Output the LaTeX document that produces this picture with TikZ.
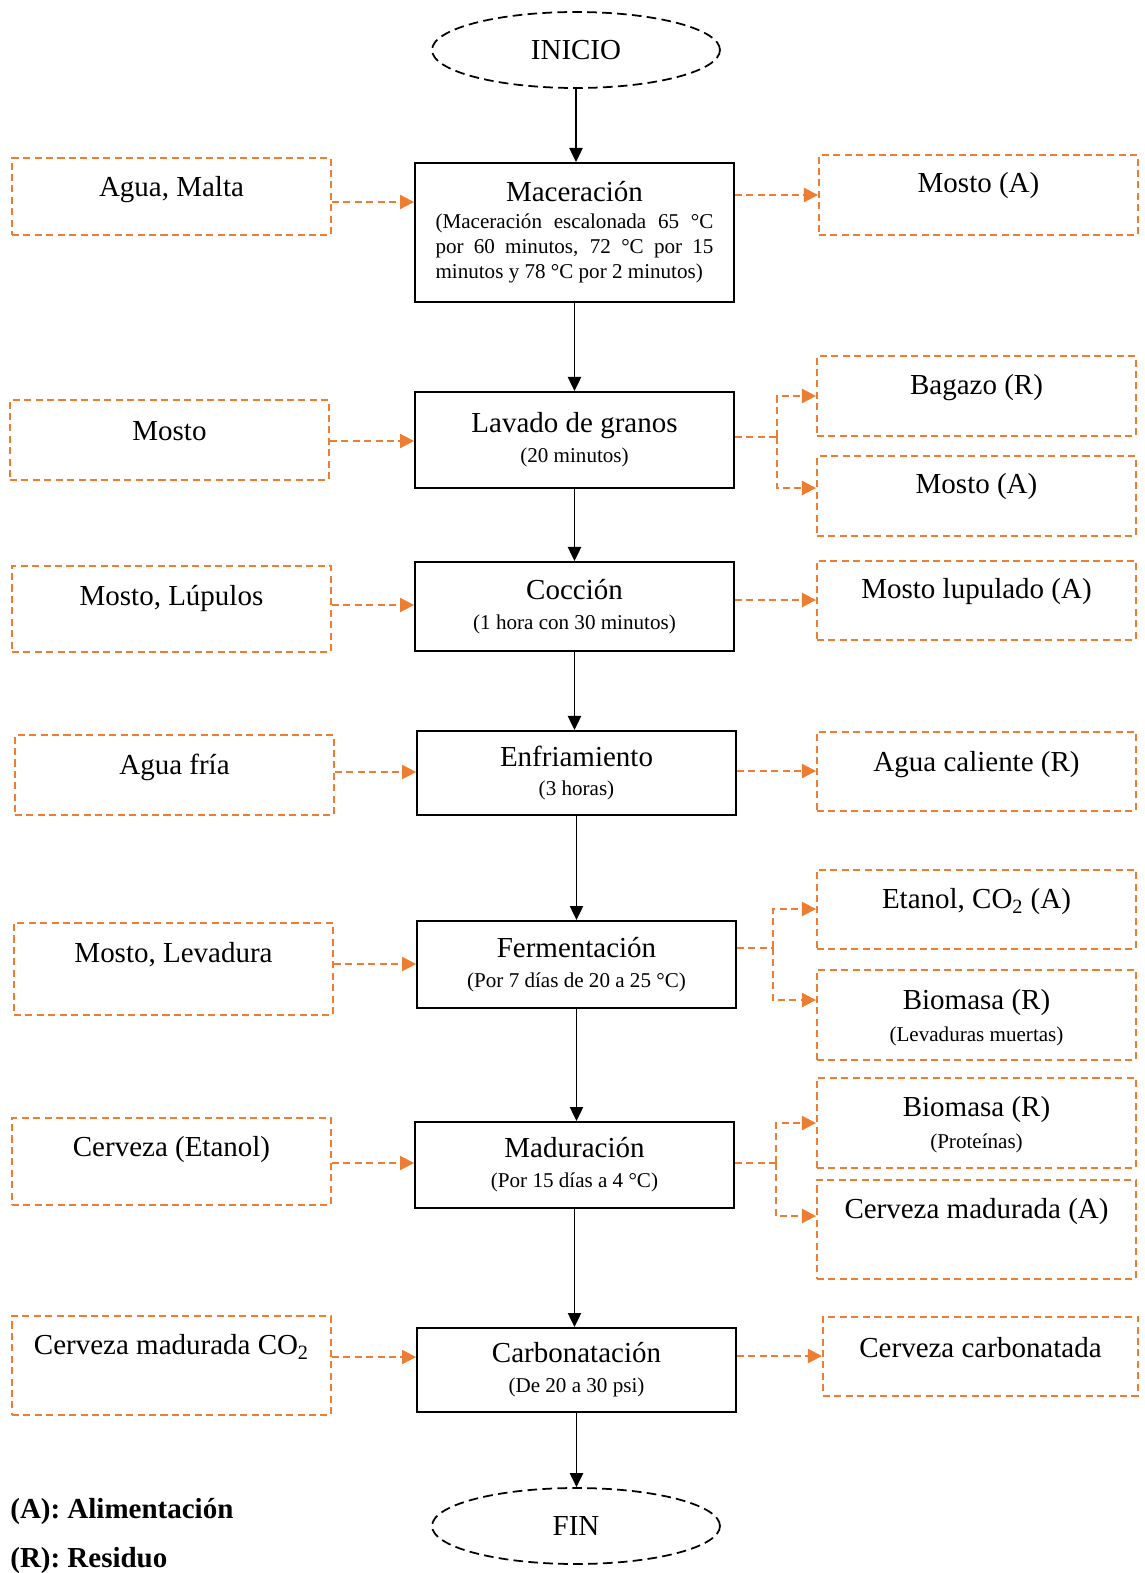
\documentclass[tikz,border=0pt]{standalone}
\usepackage{fontspec}
\setmainfont{Liberation Serif}
\usetikzlibrary{shapes.geometric,arrows.meta,calc}
\definecolor{ora}{HTML}{ED7D31}
\newcommand{\ttl}{\fontsize{16.5}{19.8}\selectfont}
\newcommand{\subt}{\fontsize{12}{14.2}\selectfont}
\begin{document}
\begin{tikzpicture}[x=0.02cm,y=-0.02cm,
  mainbox/.style={draw, line width=1.1pt, minimum width=6.38cm, align=center, inner sep=2pt},
  obox/.style={draw=ora, dash pattern=on 4pt off 2.5pt, line width=0.04cm, minimum width=6.38cm},
  otext/.style={font=\ttl, inner sep=0pt},
  osub/.style={font=\subt, inner sep=0pt},
  oline/.style={draw=ora, dash pattern=on 4pt off 2.5pt, line width=0.04cm},
  oarrow/.style={oline, -{Triangle[length=8pt,width=8pt,fill=ora]}},
  barrow/.style={line width=1pt, -{Triangle[length=8pt,width=7.5pt]}},
  term/.style={ellipse, draw, dash pattern=on 5.5pt off 3pt, line width=1pt,
    minimum width=5.76cm, minimum height=1.52cm, font=\ttl}
]
\useasboundingbox (0,0) rectangle (1145,1573);

% start and end
\node[term] (ini) at (576,50) {INICIO};
\node[term] (fin) at (576,1526) {FIN};

% process steps
\node[mainbox, minimum height=2.78cm] (mac) at (574.5,232.5)
  {{\ttl Maceración}\\[6pt]
   \begin{minipage}{5.56cm}\subt
   \makebox[\linewidth][s]{(Maceración escalonada 65 °C}\\
   \makebox[\linewidth][s]{por 60 minutos, 72 °C por 15}\\
   minutos y 78 °C por 2 minutos)
   \end{minipage}};
\node[mainbox, minimum height=1.92cm] (lav) at (574.5,440)
  {{\ttl Lavado de granos}\\[5pt]{\subt (20 minutos)}};
\node[mainbox, minimum height=1.78cm] (coc) at (574.5,606.5)
  {{\ttl Cocción}\\[5pt]{\subt (1 hora con 30 minutos)}};
\node[mainbox, minimum height=1.68cm] (enf) at (576.5,773)
  {{\ttl Enfriamiento}\\[5pt]{\subt (3 horas)}};
\node[mainbox, minimum height=1.74cm] (fer) at (576.5,964.5)
  {{\ttl Fermentación}\\[5pt]{\subt (Por 7 días de 20 a 25 °C)}};
\node[mainbox, minimum height=1.72cm] (mad) at (574.5,1165)
  {{\ttl Maduración}\\[5pt]{\subt (Por 15 días a 4 °C)}};
\node[mainbox, minimum height=1.68cm] (car) at (576.5,1370)
  {{\ttl Carbonatación}\\[5pt]{\subt (De 20 a 30 psi)}};

% main flow
\draw[barrow] (ini.south) -- (ini.south |- mac.north);
\draw[barrow] (mac.south) -- (mac.south |- lav.north);
\draw[barrow] (lav.south) -- (lav.south |- coc.north);
\draw[barrow] (coc.south) -- (coc.south |- enf.north);
\draw[barrow] (enf.south) -- (enf.south |- fer.north);
\draw[barrow] (fer.south) -- (fer.south |- mad.north);
\draw[barrow] (mad.south) -- (mad.south |- car.north);
\draw[barrow] (car.south) -- (car.south |- fin.north);

% inputs
\node[obox, minimum height=1.54cm] (l1) at (171.5,196.5) {};
\node[obox, minimum height=1.6cm]  (l2) at (169.5,440) {};
\node[obox, minimum height=1.72cm] (l3) at (171.5,609) {};
\node[obox, minimum height=1.6cm]  (l4) at (174.5,775) {};
\node[obox, minimum height=1.84cm] (l5) at (173.5,969) {};
\node[obox, minimum height=1.74cm] (l6) at (171.5,1161.5) {};
\node[obox, minimum height=1.98cm] (l7) at (171.5,1365.5) {};
\node[otext] (tl1) at ($(l1.north)+(0,33)$) {Agua, Malta};
\node[otext] (tl2) at ($(l2.north)+(0,32)$) {Mosto};
\node[otext] (tl3) at ($(l3.north)+(0,33)$) {Mosto, Lúpulos};
\node[otext] (tl4) at ($(l4.north)+(0,33)$) {Agua fría};
\node[otext] (tl5) at ($(l5.north)+(0,33)$) {Mosto, Levadura};
\node[otext] (tl6) at ($(l6.north)+(0,33)$) {Cerveza (Etanol)};
\node[otext] (tl7) at ($(l7.north)+(0,32)$) {Cerveza madurada CO\textsubscript{2}};

\path (l1.east) ++(0,5.5) coordinate (a1);
\path (l2.east) ++(0,1) coordinate (a2);
\path (l3.east) ++(0,-4) coordinate (a3);
\path (l4.east) ++(0,-3) coordinate (a4);
\path (l5.east) ++(0,-5) coordinate (a5);
\path (l6.east) ++(0,1.5) coordinate (a6);
\path (l7.east) ++(0,-8.5) coordinate (a7);
\draw[oarrow] (a1) -- (a1 -| mac.west);
\draw[oarrow] (a2) -- (a2 -| lav.west);
\draw[oarrow] (a3) -- (a3 -| coc.west);
\draw[oarrow] (a4) -- (a4 -| enf.west);
\draw[oarrow] (a5) -- (a5 -| fer.west);
\draw[oarrow] (a6) -- (a6 -| mad.west);
\draw[oarrow] (a7) -- (a7 -| car.west);

% outputs
\node[obox, minimum height=1.6cm]  (r1) at (978.5,195) {};
\node[obox, minimum height=1.6cm]  (r2) at (976.5,396) {};
\node[obox, minimum height=1.6cm]  (r3) at (976.5,496) {};
\node[obox, minimum height=1.58cm] (r4) at (976.5,600) {};
\node[obox, minimum height=1.58cm] (r5) at (976.5,771) {};
\node[obox, minimum height=1.58cm] (r6) at (976.5,909) {};
\node[obox, minimum height=1.8cm]  (r7) at (976.5,1015) {};
\node[obox, minimum height=1.8cm]  (r8) at (976.5,1123) {};
\node[obox, minimum height=1.98cm] (r9) at (976.5,1229.5) {};
\node[obox, minimum height=1.58cm, minimum width=6.3cm] (r10) at (980.5,1356) {};
\node[otext] (tr1) at ($(r1.north)+(0,32)$) {Mosto (A)};
\node[otext] (tr2) at ($(r2.north)+(0,33)$) {Bagazo (R)};
\node[otext] (tr3) at ($(r3.north)+(0,32)$) {Mosto (A)};
\node[otext] (tr4) at ($(r4.north)+(0,32)$) {Mosto lupulado (A)};
\node[otext] (tr5) at ($(r5.north)+(0,34)$) {Agua caliente (R)};
\node[otext] (tr6) at ($(r6.north)+(0,33)$) {Etanol, CO\textsubscript{2} (A)};
\node[otext] (tr7) at ($(r7.north)+(0,34)$) {Biomasa (R)};
\node[osub]  (sr7) at ($(r7.north)+(0,67)$) {(Levaduras muertas)};
\node[otext] (tr8) at ($(r8.north)+(0,33)$) {Biomasa (R)};
\node[osub]  (sr8) at ($(r8.north)+(0,66)$) {(Proteínas)};
\node[otext] (tr9) at ($(r9.north)+(0,33)$) {Cerveza madurada (A)};
\node[otext] (tr10) at ($(r10.north)+(0,32)$) {Cerveza carbonatada};

\draw[oarrow] (r1.west -| mac.east) -- (r1.west);
\draw[oarrow] (r4.west -| coc.east) -- (r4.west);
\draw[oarrow] (r5.west -| enf.east) -- (r5.west);
\draw[oarrow] (r10.west -| car.east) -- (r10.west);

% split outputs
\draw[oline] ($(lav.east)+(0,-3)$) -- ++(42,0) coordinate (jl);
\draw[oarrow] (jl) |- (r2.west);
\draw[oarrow] (jl) |- ($(r3.west)+(0,-8)$);
\draw[oline] ($(fer.east)+(0,-16.5)$) -- ++(36,0) coordinate (jf);
\draw[oarrow] (jf) |- (r6.west);
\draw[oarrow] (jf) |- ($(r7.west)+(0,-15)$);
\draw[oline] ($(mad.east)+(0,-2)$) -- ++(41,0) coordinate (jm);
\draw[oarrow] (jm) |- (r8.west);
\draw[oarrow] (jm) |- ($(r9.west)+(0,-13.5)$);

% legend
\node[anchor=west, inner sep=0pt, font=\ttl\bfseries] (legA) at (10,1511) {(A): Alimentación};
\node[anchor=west, inner sep=0pt, font=\ttl\bfseries] (legR) at (10,1561) {(R): Residuo};
\end{tikzpicture}
\end{document}
